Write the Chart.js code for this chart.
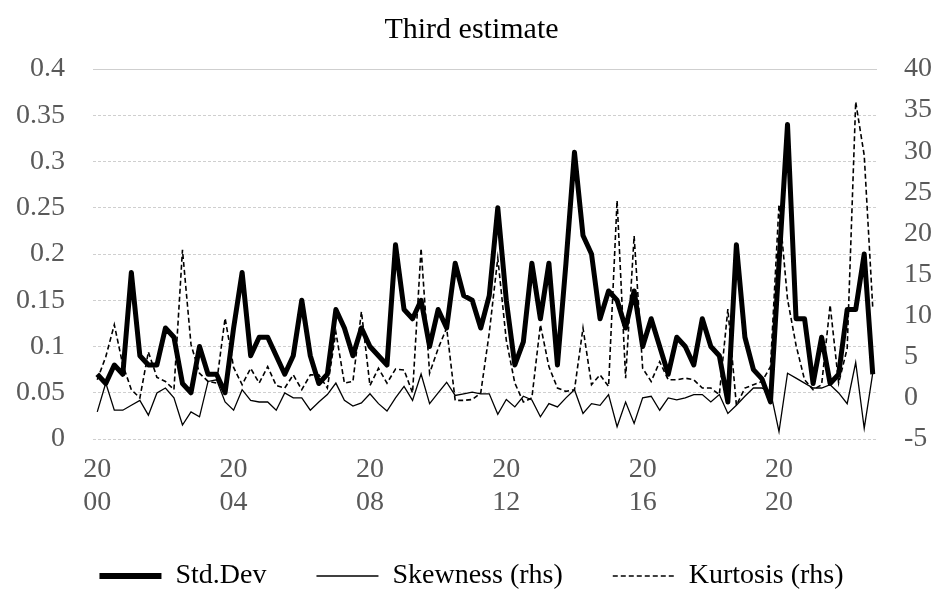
<!DOCTYPE html>
<html>
<head>
<meta charset="utf-8">
<script src="https://cdn.jsdelivr.net/npm/chart.js@4/dist/chart.umd.min.js"></script>
<style>
  html, body { margin: 0; padding: 0; background: #ffffff; }
  #wrap { width: 943px; height: 592px; }
</style>
</head>
<body>
<div id="wrap"><canvas id="c" width="943" height="592"></canvas></div>
<script>
// ---- data ----
const startYear = 2000;
const nQuarters = 92;
const categories = [];
for (let i = 0; i < nQuarters; i++) {
  categories.push((startYear + Math.floor(i / 4)) + 'Q' + (i % 4 + 1));
}
const tickYears = ['2000', '2004', '2008', '2012', '2016', '2020'];

const stdDev = [
  0.07,0.06,0.08,0.07,0.18,0.09,0.08,0.08,0.12,0.11,
  0.06,0.05,0.10,0.07,0.07,0.05,0.12,0.18,0.09,0.11,
  0.11,0.09,0.07,0.09,0.15,0.09,0.06,0.07,0.14,0.12,
  0.09,0.12,0.10,0.09,0.08,0.21,0.14,0.13,0.15,0.10,
  0.14,0.12,0.19,0.155,0.15,0.12,0.155,0.25,0.15,0.08,
  0.105,0.19,0.13,0.19,0.08,0.19,0.31,0.22,0.20,0.13,
  0.16,0.15,0.12,0.16,0.10,0.13,0.10,0.07,0.11,0.10,
  0.08,0.13,0.10,0.09,0.04,0.21,0.11,0.075,0.065,0.04,
  0.19,0.34,0.13,0.13,0.06,0.11,0.06,0.07,0.14,0.14,
  0.20,0.07
];
const skewness = [
  -1.7,1.8,-1.5,-1.5,-0.9,-0.3,-2.1,0.6,1.2,0,
  -3.3,-1.7,-2.3,2.0,2.2,-0.5,-1.5,1.0,-0.3,-0.5,
  -0.5,-1.5,0.6,0,0,-1.5,-0.5,0.4,1.8,-0.3,
  -1.0,-0.6,0.5,-0.7,-1.6,0,1.4,-0.3,2.9,-0.7,
  0.6,1.9,0.3,0.5,0.7,0.5,0.5,-2.0,-0.2,-1.1,
  0.2,-0.25,-2.3,-0.7,-1.1,0,1.0,-1.9,-0.7,-0.9,
  0.4,-3.5,-0.5,-3.1,0,0.2,-1.5,0,-0.25,0,
  0.4,0.4,-0.5,0.4,-1.9,-0.9,0.2,1.2,1.2,0.8,
  -4.1,3.0,2.4,1.8,1.2,1.2,1.6,0.6,-0.7,4.3,
  -3.7,3.0
];
const kurtosis = [
  2.2,5.0,8.9,4.0,1.0,0,5.6,2.5,2.0,1.0,
  18,6.5,3.0,2.0,1.8,9.7,3.7,1.6,3.6,1.8,
  3.8,1.5,1.2,2.8,1.0,2.8,2.8,1.2,8.0,1.8,
  2.0,10.5,1.5,3.6,1.8,3.5,3.4,0.6,18.2,3.0,
  6.0,8.5,-0.3,-0.3,-0.2,0.6,7.9,17,7,1.8,
  -0.5,0,8.9,3.8,1.2,0.8,1.0,8.5,1.6,2.8,
  1.4,24,2.4,19.7,3.6,2.0,4.4,2.2,2.2,2.4,
  2.2,1.2,1.2,0.4,10.8,-0.9,1.2,1.6,2.0,3.8,
  23.5,12,6.4,2.2,1.0,1.6,11.3,1.8,6,36,
  29.5,11
];
const seriesNames = ['Std.Dev', 'Skewness (rhs)', 'Kurtosis (rhs)'];

// ---- chart ----
const FONT = "'Liberation Serif', 'Times New Roman', serif";
const TICK_COLOR = '#595959';

new Chart(document.getElementById('c'), {
  type: 'line',
  data: {
    labels: categories,
    datasets: [
      { label: seriesNames[0], data: stdDev, yAxisID: 'y',
        borderColor: '#000000', backgroundColor: '#000000', borderWidth: 5,
        pointRadius: 0, tension: 0, borderJoinStyle: 'round' },
      { label: seriesNames[1], data: skewness, yAxisID: 'y1',
        borderColor: '#000000', backgroundColor: '#000000', borderWidth: 1.3,
        pointRadius: 0, tension: 0 },
      { label: seriesNames[2], data: kurtosis, yAxisID: 'y1',
        borderColor: '#000000', backgroundColor: '#000000', borderWidth: 1.6,
        borderDash: [5, 3], pointRadius: 0, tension: 0 }
    ]
  },
  options: {
    responsive: false,
    animation: false,
    devicePixelRatio: 1,
    layout: { padding: { left: 0, right: 0, top: 0, bottom: 0 } },
    plugins: {
      tooltip: { enabled: false },
      title: {
        display: true,
        text: 'Third estimate',
        color: '#000000',
        font: { family: FONT, size: 30, weight: 'normal', lineHeight: 1.2 },
        padding: { top: 12, bottom: 21 }
      },
      legend: {
        display: true,
        position: 'bottom',
        maxHeight: 80,
        labels: {
          color: '#000000',
          font: { family: FONT, size: 28 },
          usePointStyle: true,
          pointStyleWidth: 62,
          boxWidth: 62,
          padding: 50,
          generateLabels: function (chart) {
            return chart.data.datasets.map(function (ds, i) {
              return {
                text: ds.label,
                fillStyle: ds.borderColor,
                strokeStyle: ds.borderColor,
                lineWidth: i === 0 ? 6 : ds.borderWidth,
                lineDash: ds.borderDash || [],
                pointStyle: 'line',
                fontColor: '#000000',
                hidden: false,
                datasetIndex: i
              };
            });
          }
        }
      }
    },
    scales: {
      x: {
        type: 'category',
        offset: true,
        grid: { display: false, drawTicks: false },
        border: { display: false },
        ticks: {
          autoSkip: false,
          maxRotation: 0,
          minRotation: 0,
          padding: 14.5,
          color: TICK_COLOR,
          font: { family: FONT, size: 28, lineHeight: 1.18 },
          callback: function (val, i) {
            if (i % 16 === 0) {
              const y = tickYears[i / 16];
              return [y.slice(0, 2), y.slice(2)];
            }
            return '';
          }
        },
        afterFit: function (scale) { scale.height = 73; }
      },
      y: {
        position: 'left',
        min: 0, max: 0.4,
        grid: { color: '#cfcfcf', lineWidth: 1, drawTicks: false },
        border: { display: false, dash: function (ctx) { return (ctx.tick && ctx.tick.value >= 0.399) ? [] : [3, 2]; } },
        ticks: {
          stepSize: 0.05,
          padding: 28,
          color: TICK_COLOR,
          font: { family: FONT, size: 28 },
          callback: function (v) { return String(Math.round(v * 100) / 100); }
        },
        afterFit: function (scale) { scale.width = 93; }
      },
      y1: {
        position: 'right',
        min: -5, max: 40,
        grid: { display: false, drawTicks: false },
        border: { display: false },
        ticks: {
          stepSize: 5,
          padding: 27,
          color: TICK_COLOR,
          font: { family: FONT, size: 28 },
          callback: function (v) { return String(v); }
        },
        afterFit: function (scale) { scale.width = 66; }
      }
    }
  }
});
</script>
</body>
</html>
